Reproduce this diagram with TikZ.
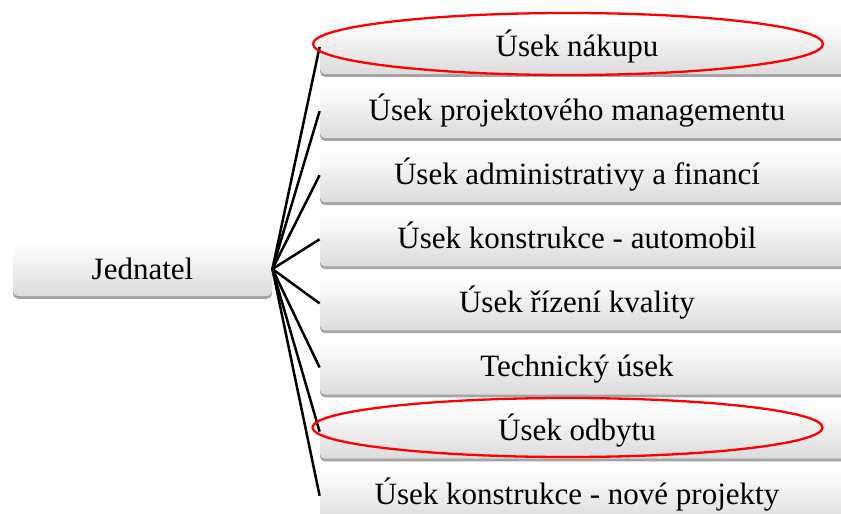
\documentclass[tikz,border=0pt]{standalone}
\usepackage{fontspec}
\setmainfont{Liberation Serif}
\usetikzlibrary{positioning,shadows}
\definecolor{boxShade}{HTML}{DCDCDC}
\definecolor{ringRed}{HTML}{FF0000}
\tikzset{
  unit box/.style={rounded corners=2.5pt,draw=none,top color=white,
    bottom color=boxShade,minimum height=27pt,inner sep=0pt,
    text height=12.5pt,text depth=3.5pt,
    font=\fontsize{15.5}{18}\selectfont,
    drop shadow={shadow xshift=0pt,shadow yshift=-1.4pt,opacity=0.6,fill=black!60}},
  head box/.style={unit box,minimum width=129.5pt,text depth=2.5pt},
  dept box/.style={unit box,minimum width=270pt,
    execute at begin node={\hspace*{-13pt}}},
  org line/.style={draw=black,line width=1.25pt},
  mark ring/.style={draw=ringRed,line width=1.15pt}
}
\begin{document}
\begin{tikzpicture}[x=0.5pt,y=-0.5pt,node distance=4.65pt]
  \useasboundingbox (0,0) rectangle (841,514);
  \clip (0,0) rectangle (841,514);
  \node[head box] (jednatel) at (142.5,269) {Jednatel};
  \coordinate (hub) at (jednatel.east);
  \node[dept box] (nakup) at (590,47) {Úsek nákupu};
  \node[dept box,below=of nakup] (projekty) {Úsek projektového managementu};
  \node[dept box,below=of projekty] (finance) {Úsek administrativy a financí};
  \node[dept box,below=of finance] (konstrAuto) {Úsek konstrukce - automobil};
  \node[dept box,below=of konstrAuto] (kvalita) {Úsek řízení kvality};
  \node[dept box,below=of kvalita] (technicky) {Technický úsek};
  \node[dept box,below=of technicky] (odbyt) {Úsek odbytu};
  \node[dept box,below=of odbyt] (konstrNove) {Úsek konstrukce - nové projekty};
  \draw[org line] (hub) -- (nakup.west);
  \draw[org line] (hub) -- (projekty.west);
  \draw[org line] (hub) -- (finance.west);
  \draw[org line] (hub) -- (konstrAuto.west);
  \draw[org line] (hub) -- (kvalita.west);
  \draw[org line] (hub) -- (technicky.west);
  \draw[org line] (hub) -- (odbyt.west);
  \draw[org line] (hub) -- (konstrNove.west);
  \draw[mark ring] (568,44) ellipse [x radius=255,y radius=31];
  \draw[mark ring] (567.5,427.5) ellipse [x radius=255,y radius=29.5];
\end{tikzpicture}
\end{document}
